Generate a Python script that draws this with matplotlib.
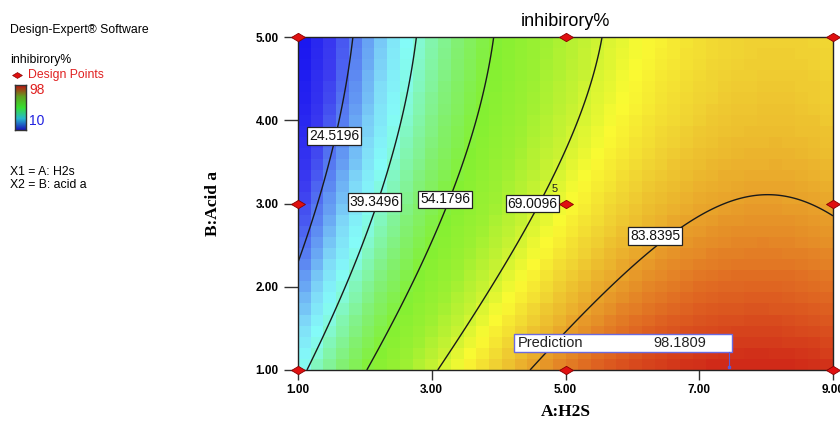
import numpy as np
import matplotlib
matplotlib.use("Agg")
import matplotlib.pyplot as plt
from matplotlib.colors import LinearSegmentedColormap
from matplotlib.patches import Rectangle

# Quadratic response-surface model for inhibirory%:
# y = b0 + bA*A + bB*B + bAB*A*B + bAA*A^2 + bBB*B^2
coef_names = ["b0", "bA", "bB", "bAB", "bAA", "bBB"]
coef_values = [29.7326, 20.5229, -13.2566, 0.2350, -1.3243, 1.0380]

# Factor ranges
a_range = [1.0, 9.0]
b_range = [1.0, 5.0]

# Contour levels shown on the plot, with label anchor positions (A, B)
contour_levels = [24.5196, 39.3496, 54.1796, 69.0096, 83.8395]
label_a = [1.54, 2.14, 3.20, 4.51, 6.34]
label_b = [3.81, 3.02, 3.05, 3.00, 2.61]

# Design points (3x3 factorial; centre point replicated 5 times)
design_a = [1, 1, 1, 5, 5, 5, 9, 9, 9]
design_b = [1, 3, 5, 1, 3, 5, 1, 3, 5]
center_reps = 5

# Prediction flag
pred_a, pred_b = 7.44, 1.04
pred_value = 98.1809

# Tick labels
x_ticks = [1.0, 3.0, 5.0, 7.0, 9.0]
y_ticks = [1.0, 2.0, 3.0, 4.0, 5.0]

resp_min, resp_max = 10, 98


def model(a, b):
    b0, ba, bb, bab, baa, bbb = coef_values
    return b0 + ba * a + bb * b + bab * a * b + baa * a ** 2 + bbb * b ** 2


# Design-Expert style colour ramp
stops = [
    (0.00, "#1410f0"), (0.11, "#3c3cf0"), (0.19, "#5f8ff2"),
    (0.26, "#80dcf8"), (0.31, "#84fbf8"), (0.365, "#82f6b4"),
    (0.43, "#82f070"), (0.51, "#84f032"), (0.59, "#9cf032"),
    (0.66, "#c8f232"), (0.716, "#fafa32"), (0.775, "#f0d232"),
    (0.84, "#e8a22a"), (0.91, "#e06a22"), (1.00, "#d02a18"),
]
cmap = LinearSegmentedColormap.from_list("dx", stops)

fig = plt.figure(figsize=(8.4, 4.29), dpi=100)
ax = fig.add_axes([298 / 840, 1 - 370 / 429, 535 / 840, 333 / 429])

# Blocky shaded surface
nx, ny = 42, 30
ae = np.linspace(a_range[0], a_range[1], nx + 1)
be = np.linspace(b_range[0], b_range[1], ny + 1)
ac = 0.5 * (ae[:-1] + ae[1:])
bc = 0.5 * (be[:-1] + be[1:])
AC, BC = np.meshgrid(ac, bc)
ax.pcolormesh(ae, be, model(AC, BC), cmap=cmap, vmin=resp_min, vmax=resp_max,
              shading="flat", antialiased=False, rasterized=True)

# Contour lines from the fine-grid model
af = np.linspace(a_range[0], a_range[1], 300)
bf = np.linspace(b_range[0], b_range[1], 200)
AF, BF = np.meshgrid(af, bf)
ax.contour(AF, BF, model(AF, BF), levels=contour_levels, colors="#1a1a1a",
           linewidths=1.0)

for lev, la, lb in zip(contour_levels, label_a, label_b):
    ax.text(la, lb, f"{lev:.4f}", ha="center", va="center", fontsize=10,
            family="Liberation Sans", color="#111111", zorder=5,
            bbox=dict(boxstyle="square,pad=0.12", fc="white", ec="#222222",
                      lw=0.9))

# Design points
diamond = [(-1, 0), (0, 0.6), (1, 0), (0, -0.6), (-1, 0)]
ax.plot(design_a, design_b, linestyle="none", marker=diamond, ms=10,
        mfc="#e01010", mec="#8a0000", mew=0.6, clip_on=False, zorder=6)
ax.text(5.0 - 0.12, 3.0 + 0.12, str(center_reps), ha="right", va="bottom",
        fontsize=8, family="Liberation Sans", color="#222222", zorder=6)

# Prediction flag
box_left, box_right = 4.23, 7.49
box_bottom, box_top = 1.216, 1.43
ax.add_patch(Rectangle((box_left, box_bottom), box_right - box_left,
                       box_top - box_bottom, fc="white", ec="#6a6ae0",
                       lw=1.0, zorder=6))
ax.plot([pred_a, pred_a], [pred_b, box_bottom], color="#5a5ad8", lw=0.8,
        zorder=6)
ax.plot([pred_a], [pred_b], marker="s", ms=1.5, color="#5a5ad8", zorder=6)
box_mid = 0.5 * (box_bottom + box_top)
ax.text(box_left + 0.06, box_mid, "Prediction", ha="left", va="center",
        fontsize=10.5, family="Liberation Sans", color="#222222", zorder=7)
ax.text(7.10, box_mid, f"{pred_value:.4f}", ha="right", va="center",
        fontsize=10.5, family="Liberation Sans", color="#222222", zorder=7)

ax.set_xlim(*a_range)
ax.set_ylim(*b_range)
ax.set_xticks(x_ticks)
ax.set_yticks(y_ticks)
ax.set_xticklabels([f"{t:.2f}" for t in x_ticks])
ax.set_yticklabels([f"{t:.2f}" for t in y_ticks])
ax.tick_params(direction="out", width=1.0, color="#333333", labelsize=8.5)
ax.tick_params(axis="y", length=10, pad=4)
ax.tick_params(axis="x", length=7, pad=3)
for lbl in ax.get_xticklabels() + ax.get_yticklabels():
    lbl.set_fontweight("bold")
    lbl.set_family("Liberation Sans")
for sp in ax.spines.values():
    sp.set_color("#222222")
    sp.set_linewidth(1.0)

ax.set_title("inhibirory%", fontsize=13, family="Liberation Sans", pad=8)
ax.set_xlabel("A:H2S", fontsize=12.5, family="Liberation Serif",
              fontweight="bold", labelpad=6)
ax.set_ylabel("B:Acid a", fontsize=12.5, family="Liberation Serif",
              fontweight="bold", labelpad=25)

# Left-hand information panel
def ftext(x, y, s, **kw):
    kw.setdefault("fontsize", 8.8)
    kw.setdefault("family", "Liberation Sans")
    fig.text(x / 840, 1 - y / 429, s, va="center", ha="left", **kw)

ftext(10, 30, "Design-Expert® Software")
ftext(10, 60, "inhibirory%")
fig.lines.append(plt.Line2D([17 / 840], [1 - 75 / 429], marker=diamond, ms=7,
                            mfc="#e01010", mec="#8a0000", mew=0.5,
                            transform=fig.transFigure, linestyle="none"))
ftext(28, 75, "Design Points", color="#e02020")

cax = fig.add_axes([15 / 840, 1 - 130 / 429, 11 / 840, 45 / 429])
legend_cmap = LinearSegmentedColormap.from_list(
    "leg", ["#1818b8", "#28b8d0", "#38e030", "#60a020", "#c01010"])
cax.imshow(np.linspace(0, 1, 64)[:, None], aspect="auto", origin="lower",
           cmap=legend_cmap)
cax.set_xticks([])
cax.set_yticks([])
for sp in cax.spines.values():
    sp.set_color("#333333")
    sp.set_linewidth(1.0)
ftext(29, 90, f"{resp_max}", color="#e02020", fontsize=10)
ftext(29, 121, f"{resp_min}", color="#2020e0", fontsize=10)

ftext(10, 172, "X1 = A: H2s")
ftext(10, 185, "X2 = B: acid a")

fig.savefig("out.png", dpi=100)
